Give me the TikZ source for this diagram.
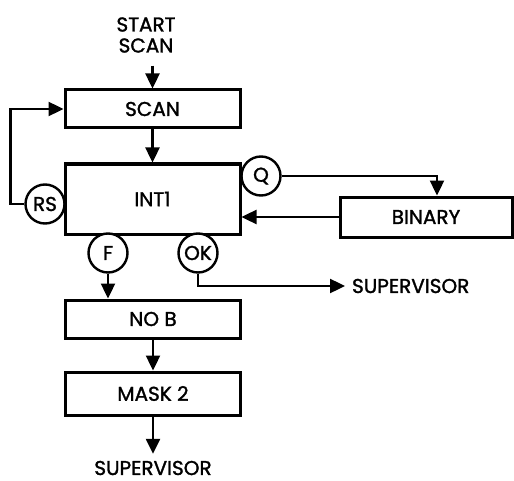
\documentclass[tikz,border=0pt]{standalone}
\usepackage{fontspec}
\setmainfont{Poppins}[FakeBold=1.5]
\usetikzlibrary{arrows.meta,positioning}

\begin{document}
\begin{tikzpicture}[
    x=0.5pt,y=-0.5pt,
    every node/.style={font=\fontsize{10}{10.5}\selectfont},
    flowbox/.style={rectangle,draw,line width=1.5pt,minimum width=87.5pt,
      minimum height=19pt,inner sep=0pt},
    tagcircle/.style={circle,draw,fill=white,line width=1.2pt,minimum size=19.5pt,inner sep=0pt},
    arrow/.style={-{Triangle[length=7.5pt,width=7pt]},line width=1.2pt}
  ]
    \useasboundingbox (0,0) rectangle (514,481);
    \node[align=center] (start) at (146,35) {START\\SCAN};
    \node[flowbox] (scan) at (152.5,109) {SCAN};
    \node[flowbox,minimum height=35pt] (int1) at (152.5,199) {INT1};
    \node[flowbox,minimum width=86pt,minimum height=20pt] (binary) at (426,217) {BINARY};
    \node[flowbox] (nob) at (153,319) {NO B};
    \node[flowbox,minimum height=21.5pt] (mask) at (153,393.5) {MASK 2};
    \node[tagcircle] (rs) at (45,204) {RS};
    \node[tagcircle] (q) at (261,176) {Q};
    \node[tagcircle] (f) at (108,253) {F};
    \node[tagcircle] (ok) at (198,253) {OK};
    \node[anchor=west] (sup1) at (345,286) {SUPERVISOR};
    \node (sup2) at (153,468) {SUPERVISOR};
    \draw[arrow] ([yshift=-3pt]start.south -| scan.north) -- (scan.north);
    \draw[arrow] (scan) -- (int1);
    \draw[arrow] (rs.west) -- ++(-14,0) |- (scan.west);
    \draw[arrow] (q.east) -| ([xshift=5.5pt]binary.north);
    \draw[arrow] (binary.west) -- (binary.west -| int1.east);
    \draw[arrow] (f.south) -- (f.south |- nob.north);
    \draw[arrow] (ok.south) |- (sup1.west);
    \draw[arrow] (nob) -- (mask);
    \draw[arrow] (mask) -- (sup2);
\end{tikzpicture}
\end{document}
